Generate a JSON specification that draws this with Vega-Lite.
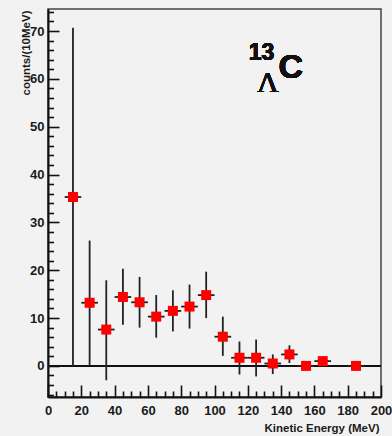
{
  "$schema": "https://vega.github.io/schema/vega-lite/v6.json",
  "width": 333,
  "height": 388,
  "autosize": {"type": "none"},
  "padding": {"left": 48, "top": 9, "right": 11, "bottom": 39},
  "background": "#f2f2f2",
  "config": {
    "view": {"stroke": "#444", "strokeWidth": 1.5},
    "axis": {
      "domainColor": "#111",
      "domainWidth": 2,
      "tickColor": "#111",
      "tickWidth": 1.6,
      "labelFont": "Liberation Sans",
      "labelFontWeight": "bold",
      "labelFontSize": 13,
      "labelColor": "#1a1a1a",
      "labelOverlap": false,
      "labelFlush": false,
      "grid": false,
      "titleFont": "Liberation Sans",
      "titleFontWeight": "bold",
      "titleFontSize": 11.5,
      "titleColor": "#1a1a1a"
    }
  },
  "resolve": {"axis": {"x": "independent", "y": "independent"}},
  "data": {
    "values": [
      {"e": 15, "c": 35.3, "lo": 0, "hi": 70.7, "xlo": 10, "xhi": 20},
      {"e": 25, "c": 13.2, "lo": 0.2, "hi": 26.2, "xlo": 20, "xhi": 30},
      {"e": 35, "c": 7.6, "lo": -3.0, "hi": 17.9, "xlo": 30, "xhi": 40},
      {"e": 45, "c": 14.4, "lo": 8.6, "hi": 20.3, "xlo": 40, "xhi": 50},
      {"e": 55, "c": 13.3, "lo": 8.0, "hi": 18.6, "xlo": 50, "xhi": 60},
      {"e": 65, "c": 10.3, "lo": 5.9, "hi": 14.8, "xlo": 60, "xhi": 70},
      {"e": 75, "c": 11.5, "lo": 7.2, "hi": 15.8, "xlo": 70, "xhi": 80},
      {"e": 85, "c": 12.4, "lo": 7.8, "hi": 17.0, "xlo": 80, "xhi": 90},
      {"e": 95, "c": 14.8, "lo": 10.0, "hi": 19.7, "xlo": 90, "xhi": 100},
      {"e": 105, "c": 6.1, "lo": 2.1, "hi": 10.3, "xlo": 100, "xhi": 110},
      {"e": 115, "c": 1.7, "lo": -1.8, "hi": 5.1, "xlo": 110, "xhi": 120},
      {"e": 125, "c": 1.7, "lo": -2.2, "hi": 5.5, "xlo": 120, "xhi": 130},
      {"e": 135, "c": 0.5, "lo": -1.7, "hi": 2.4, "xlo": 130, "xhi": 140},
      {"e": 145, "c": 2.4, "lo": 0.6, "hi": 4.3, "xlo": 140, "xhi": 150},
      {"e": 155, "c": 0, "lo": 0, "hi": 0, "xlo": 150, "xhi": 160},
      {"e": 165, "c": 1.0, "lo": 0.5, "hi": 1.5, "xlo": 160, "xhi": 170},
      {"e": 185, "c": 0, "lo": 0, "hi": 0, "xlo": 180, "xhi": 190}
    ]
  },
  "layer": [
    {
      "mark": {"type": "rule", "color": "#111", "strokeWidth": 1.5},
      "encoding": {
        "y": {"datum": 0, "type": "quantitative", "axis": null}
      }
    },
    {
      "mark": {"type": "rule", "color": "#222", "strokeWidth": 1.8},
      "encoding": {
        "x": {
          "field": "e", "type": "quantitative", "title": "Kinetic Energy (MeV)",
          "scale": {"domain": [0, 200], "nice": false, "zero": false},
          "axis": {
            "orient": "bottom",
            "values": [0,20,40,60,80,100,120,140,160,180,200],
            "format": "d",
            "tickSize": -12,
            "labelPadding": 19,
            "labelDx": -2,
            "titleX": 331,
            "titleY": 31,
            "titleAlign": "right",
            "titleBaseline": "middle"
          }
        },
        "y": {
          "field": "lo", "type": "quantitative", "title": "counts/(10MeV)",
          "scale": {"domain": [-6.5, 74.6], "nice": false, "zero": false},
          "axis": {
            "orient": "left",
            "values": [0,10,20,30,40,50,60,70],
            "format": "d",
            "tickSize": -11,
            "labelPadding": 15,
            "titleX": -22,
            "titleY": 1,
            "titleAngle": -90,
            "titleAlign": "right",
            "titleBaseline": "middle"
          }
        },
        "y2": {"field": "hi"}
      }
    },
    {
      "mark": {"type": "rule", "color": "#222", "strokeWidth": 1.8},
      "encoding": {
        "x": {
          "field": "xlo", "type": "quantitative",
          "axis": {
            "orient": "bottom",
            "values": [5,10,15,25,30,35,45,50,55,65,70,75,85,90,95,105,110,115,125,130,135,145,150,155,165,170,175,185,190,195],
            "labels": false,
            "domain": false,
            "title": null,
            "tickSize": -6
          }
        },
        "x2": {"field": "xhi"},
        "y": {
          "field": "c", "type": "quantitative",
          "axis": {
            "orient": "left",
            "values": [-6,-4,-2,2,4,6,8,12,14,16,18,22,24,26,28,32,34,36,38,42,44,46,48,52,54,56,58,62,64,66,68,72,74],
            "labels": false,
            "domain": false,
            "title": null,
            "tickSize": -5.5
          }
        }
      }
    },
    {
      "mark": {"type": "point", "shape": "square", "filled": true, "color": "#ff0000", "opacity": 1, "size": 100},
      "encoding": {
        "x": {"field": "e", "type": "quantitative", "axis": null},
        "y": {"field": "c", "type": "quantitative", "axis": null}
      }
    },
    {
      "mark": {"type": "text", "text": "C", "font": "Liberation Sans", "fontWeight": "bold", "fontSize": 34, "align": "left", "baseline": "alphabetic", "color": "#111"},
      "encoding": {
        "x": {"datum": 138.5, "type": "quantitative", "axis": null},
        "y": {"datum": 60.2, "type": "quantitative", "axis": null}
      }
    },
    {
      "mark": {"type": "text", "text": "13", "font": "Liberation Sans", "fontWeight": "bold", "fontSize": 23, "align": "left", "baseline": "alphabetic", "color": "#111"},
      "encoding": {
        "x": {"datum": 120.5, "type": "quantitative", "axis": null},
        "y": {"datum": 63.9, "type": "quantitative", "axis": null}
      }
    },
    {
      "mark": {"type": "text", "text": "Λ", "font": "Liberation Serif", "fontSize": 30, "align": "left", "baseline": "alphabetic", "color": "#111"},
      "encoding": {
        "x": {"datum": 125.5, "type": "quantitative", "axis": null},
        "y": {"datum": 57.3, "type": "quantitative", "axis": null}
      }
    }
  ]
}
